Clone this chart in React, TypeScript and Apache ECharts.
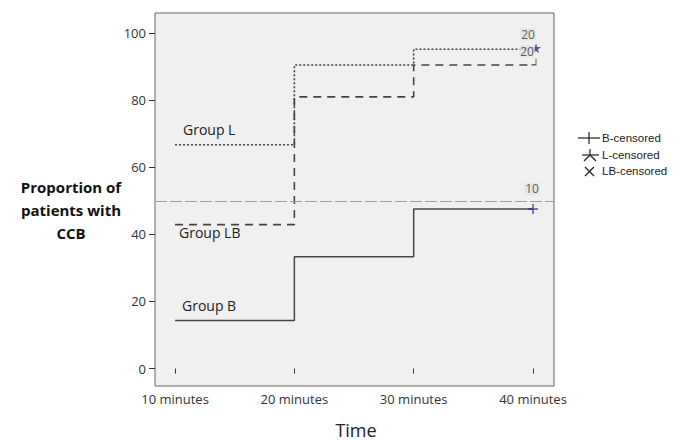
import React, { useEffect, useRef } from 'react';
import * as echarts from 'echarts';

const times = [10, 20, 30, 40];
const timeTicks = [10, 20, 30, 40];
const groupL = [66.7, 90.5, 95.2, 95.2];
const groupLB = [42.9, 81.0, 90.5, 90.5];
const groupB = [14.3, 33.3, 47.6, 47.6];
const yTicks = [0, 20, 40, 60, 80, 100];
const referenceLevel = 50;
const censorL = [40, 95.2];
const censorLB = [40, 90.5];
const censorB = [40, 47.6];
const countL = '20';
const countLB = '20';
const countB = '10';
const legendItems = ['B-censored', 'L-censored', 'LB-censored'];

const pairs = (ys: number[]) => times.map((t, i) => [t, ys[i]]);

const STAR =
  'path://M50,0 L61,35 L98,35 L68,57 L79,91 L50,70 L21,91 L32,57 L2,35 L39,35 Z';
const PLUS = 'path://M0,5 L10,5 M5,0 L5,10';
const NAVY = '#2b2f7e';
const LINE = '#444';

export default function App() {
  const ref = useRef<HTMLDivElement>(null);
  useEffect(() => {
    document.body.style.margin = '0';
    const chart = echarts.init(ref.current!, null, { renderer: 'svg' });
    const labelStyle = {
      show: true,
      position: 'inside' as const,
      color: '#333',
      fontSize: 12,
      fontFamily: 'Open Sans',
      backgroundColor: '#e3e3e3',
      padding: [0, 1],
    };
    chart.setOption({
      animation: false,
      backgroundColor: '#ffffff',
      grid: {
        left: 155,
        right: 127,
        top: 13,
        bottom: 57,
        show: true,
        backgroundColor: '#f0f0f0',
        borderColor: '#666',
        borderWidth: 1,
      },
      xAxis: {
        type: 'value',
        min: 8.32,
        max: 41.76,
        splitLine: { show: false },
        axisLine: { show: false },
        axisTick: {
          show: true,
          customValues: timeTicks,
          length: 5,
          lineStyle: { color: '#333' },
        },
        axisLabel: {
          customValues: timeTicks,
          formatter: (v: number) => `${v} minutes`,
          color: '#333',
          fontSize: 13,
          fontFamily: 'Open Sans',
          margin: 6,
        },
      },
      yAxis: {
        type: 'value',
        min: -5.2,
        max: 106,
        splitLine: { show: false },
        axisLine: { show: false },
        axisTick: {
          show: true,
          customValues: yTicks,
          length: 6,
          lineStyle: { color: '#333' },
        },
        axisLabel: {
          customValues: yTicks,
          color: '#333',
          fontSize: 13,
          fontFamily: 'Open Sans',
          margin: 9,
        },
      },
      series: [
        {
          name: 'Group L',
          type: 'line',
          step: 'end',
          data: pairs(groupL),
          symbol: 'none',
          lineStyle: { color: LINE, width: 1.6, type: [2, 2] },
        },
        {
          name: 'Group LB',
          type: 'line',
          step: 'end',
          data: pairs(groupLB),
          symbol: 'none',
          lineStyle: { color: LINE, width: 1.6, type: [8, 6] },
        },
        {
          name: 'Group B',
          type: 'line',
          step: 'end',
          data: pairs(groupB),
          symbol: 'none',
          lineStyle: { color: LINE, width: 1.5 },
          markLine: {
            silent: true,
            symbol: 'none',
            label: { show: false },
            lineStyle: { color: '#a0a0a0', width: 1, type: [12, 3] },
            data: [{ yAxis: referenceLevel }],
          },
        },
        {
          name: 'B-censored',
          type: 'scatter',
          data: [censorB],
          symbol: PLUS,
          symbolSize: 10,
          itemStyle: { color: 'none', borderColor: NAVY, borderWidth: 1.5 },
          z: 5,
        },
        {
          name: 'L-censored',
          type: 'scatter',
          data: [censorL],
          symbol: STAR,
          symbolSize: 10,
          symbolOffset: [3, -1],
          itemStyle: { color: NAVY },
          z: 5,
        },
        {
          name: 'LB-censored',
          type: 'scatter',
          data: [censorLB],
          symbol: 'path://M8,0 L10,0 L10,10 L0,10 L0,8 L8,8 Z',
          symbolSize: [5, 7],
          symbolOffset: [1, -3],
          itemStyle: { color: LINE },
          z: 5,
        },
        {
          name: 'counts',
          type: 'scatter',
          symbolSize: 1,
          itemStyle: { color: 'transparent' },
          z: 6,
          data: [
            { value: censorL, label: { ...labelStyle, formatter: countL, offset: [-5, -15] } },
            { value: censorL, label: { ...labelStyle, formatter: countLB, offset: [-6, 2] } },
            { value: censorB, label: { ...labelStyle, formatter: countB, offset: [-1, -20] } },
          ],
        },
      ],
      graphic: [
        { type: 'text', left: 183, top: 122, style: { text: 'Group L', fontSize: 14, fontFamily: 'Open Sans', fill: '#222' } },
        { type: 'text', left: 179, top: 225, style: { text: 'Group LB', fontSize: 14, fontFamily: 'Open Sans', fill: '#222' } },
        { type: 'text', left: 182, top: 298, style: { text: 'Group B', fontSize: 14, fontFamily: 'Open Sans', fill: '#222' } },
        {
          type: 'text',
          x: 71,
          y: 175,
          style: {
            text: 'Proportion of\npatients with\nCCB',
            fontSize: 15,
            fontWeight: 'bold',
            fontFamily: 'Open Sans',
            fill: '#111',
            align: 'center',
            lineHeight: 23,
          },
        },
        {
          type: 'text',
          x: 356,
          y: 421,
          style: { text: 'Time', fontSize: 18, fontFamily: 'Open Sans', fill: '#222', align: 'center' },
        },
        // legend symbols
        { type: 'line', shape: { x1: 578, y1: 138, x2: 600, y2: 138 }, style: { stroke: '#222', lineWidth: 1.2 } },
        { type: 'line', shape: { x1: 589, y1: 132, x2: 589, y2: 144 }, style: { stroke: '#222', lineWidth: 1.2 } },
        { type: 'line', shape: { x1: 582, y1: 155, x2: 599, y2: 155 }, style: { stroke: '#222', lineWidth: 1.2 } },
        { type: 'line', shape: { x1: 590, y1: 149, x2: 590, y2: 155 }, style: { stroke: '#222', lineWidth: 1.2 } },
        { type: 'line', shape: { x1: 590, y1: 155, x2: 584, y2: 161 }, style: { stroke: '#222', lineWidth: 1.2 } },
        { type: 'line', shape: { x1: 590, y1: 155, x2: 596, y2: 161 }, style: { stroke: '#222', lineWidth: 1.2 } },
        { type: 'line', shape: { x1: 585, y1: 167, x2: 594, y2: 176 }, style: { stroke: '#222', lineWidth: 1.2 } },
        { type: 'line', shape: { x1: 585, y1: 176, x2: 594, y2: 167 }, style: { stroke: '#222', lineWidth: 1.2 } },
        ...legendItems.map((t, i) => ({
          type: 'text',
          x: 602,
          y: 132 + i * 16.5,
          style: { text: t, fontSize: 11.5, fontFamily: 'Liberation Sans', fill: '#222' },
        })),
      ],
    });
    return () => chart.dispose();
  }, []);
  return <div ref={ref} style={{ width: 681, height: 443 }} />;
}
